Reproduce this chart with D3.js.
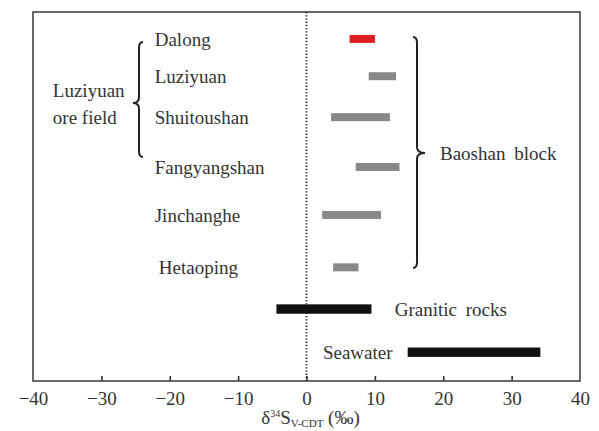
<!DOCTYPE html>
<meta charset="utf-8">
<style>
body { margin: 0; background: #fff; }
text { font-family: "Liberation Serif", "DejaVu Serif", serif; fill: #333; }
.axis path { display: none; }
.axis line { stroke: #333; stroke-width: 1.6px; }
.axis text { font-size: 19px; fill: #333; }
</style>
<svg width="599" height="431"></svg>
<script src="https://cdn.jsdelivr.net/npm/d3@7"></script>
<script>
// sites and their d34S ranges (permil)
var sites    = ["Dalong", "Luziyuan", "Shuitoushan", "Fangyangshan", "Jinchanghe", "Hetaoping", "Granitic rocks", "Seawater"];
var minVals  = [6.3, 9.1, 3.6, 7.2, 2.3, 3.9, -4.4, 14.8];
var maxVals  = [10.0, 13.1, 12.2, 13.6, 10.9, 7.6, 9.5, 34.2];
var groups   = ["ore", "ore", "ore", "ore", "ore", "ore", "ref", "ref"];
// row index of each site (row units)
var rows     = [0.73, 1.74, 2.85, 4.2, 5.5, 6.92, 8.05, 9.22];
var xTicks   = [-40, -30, -20, -10, 0, 10, 20, 30, 40];

var svg = d3.select("svg"),
    margin = {top: 12, right: 19, bottom: 50, left: 33},
    width = +svg.attr("width") - margin.left - margin.right,
    height = +svg.attr("height") - margin.top - margin.bottom,
    g = svg.append("g").attr("transform", "translate(" + margin.left + "," + margin.top + ")");

var x = d3.scaleLinear().domain([-40, 40]).range([0, width]),
    y = d3.scaleLinear().domain([0, 10]).range([0, height]);

var data = sites.map(function(s, i) {
  return {name: s, lo: minVals[i], hi: maxVals[i], group: groups[i], row: rows[i]};
});

// x axis, ticks pointing inward
g.append("g")
    .attr("class", "axis axis--x")
    .attr("transform", "translate(0," + height + ")")
    .call(d3.axisBottom(x).tickValues(xTicks).tickSizeInner(-5).tickSizeOuter(0).tickPadding(11)
      .tickFormat(function(d) { return d < 0 ? "\u2212" + Math.abs(d) : d; }))
  .selectAll(".tick line")
    .style("display", function(d) { return (d == -40 || d == 40) ? "none" : null; });

// frame
g.append("rect")
    .attr("width", width)
    .attr("height", height)
    .attr("fill", "none")
    .attr("stroke", "#444")
    .attr("stroke-width", 1.6);

// zero line
g.append("line")
    .attr("x1", x(0)).attr("x2", x(0))
    .attr("y1", 0).attr("y2", height)
    .attr("stroke", "#222")
    .attr("stroke-width", 1.8)
    .attr("stroke-dasharray", "1.3,1.9");

// bars
g.selectAll(".bar")
  .data(data)
  .enter().append("rect")
    .attr("class", "bar")
    .attr("x", function(d) { return x(d.lo); })
    .attr("width", function(d) { return x(d.hi) - x(d.lo); })
    .attr("y", function(d) { return y(d.row) - (d.group == "ref" ? 4.7 : 4); })
    .attr("height", function(d) { return d.group == "ref" ? 9.4 : 8; })
    .attr("fill", function(d, i) { return i == 0 ? "#e02020" : (d.group == "ref" ? "#111" : "#888"); });

// site labels
g.selectAll(".lbl")
  .data(data.slice(0, 6))
  .enter().append("text")
    .attr("class", "lbl")
    .attr("x", function(d, i) { return x(i == 5 ? -21.6 : -22.2); })
    .attr("y", function(d) { return y(d.row); })
    .attr("dy", "0.35em")
    .style("font-size", "19px")
    .text(function(d) { return d.name; });

g.append("text")
    .attr("x", x(12.9)).attr("y", y(rows[6])).attr("dy", "0.35em")
    .style("font-size", "19px").style("word-spacing", "4px")
    .text("Granitic rocks");

g.append("text")
    .attr("x", x(2.4)).attr("y", y(rows[7])).attr("dy", "0.35em")
    .style("font-size", "19px")
    .text("Seawater");

// braces
function brace(x0, y0, y1, ym, xp, dir) {
  // dir: +1 opens left "}" ; -1 opens right "{"
  var xv = x0 + dir * 4, r = 6;
  return "M" + x0 + "," + y0 +
    " Q" + xv + "," + y0 + " " + xv + "," + (y0 + r) +
    " L" + xv + "," + (ym - r) +
    " Q" + xv + "," + ym + " " + xp + "," + ym +
    " Q" + xv + "," + ym + " " + xv + "," + (ym + r) +
    " L" + xv + "," + (y1 - r) +
    " Q" + xv + "," + y1 + " " + x0 + "," + y1;
}

svg.append("path")
    .attr("d", brace(143, 42, 157, 103, 133, -1))
    .attr("fill", "none").attr("stroke", "#222").attr("stroke-width", 2);

svg.append("path")
    .attr("d", brace(413, 37, 268, 153, 425, 1))
    .attr("fill", "none").attr("stroke", "#222").attr("stroke-width", 2);

g.append("text")
    .attr("x", x(-37.1)).attr("y", y(rows[1]) + 14).attr("dy", "0.35em")
    .style("font-size", "19px")
    .text("Luziyuan");
g.append("text")
    .attr("x", x(-37.1)).attr("y", y(rows[2]) + 0).attr("dy", "0.35em")
    .style("font-size", "19px")
    .text("ore field");

svg.append("text")
    .attr("x", 440).attr("y", 153).attr("dy", "0.35em")
    .style("font-size", "19px").style("word-spacing", "4px")
    .text("Baoshan block");

// x axis title
var title = svg.append("text")
    .attr("x", x(0) + margin.left + 4)
    .attr("y", 424)
    .attr("text-anchor", "middle")
    .style("font-size", "19px");
title.append("tspan").text("\u03b4");
title.append("tspan").attr("dy", -7).style("font-size", "10px").text("34");
title.append("tspan").attr("dy", 7).text("S");
title.append("tspan").attr("dy", 3).style("font-size", "11px").text("V-CDT");
title.append("tspan").attr("dy", -3).text(" (\u2030)");
</script>
